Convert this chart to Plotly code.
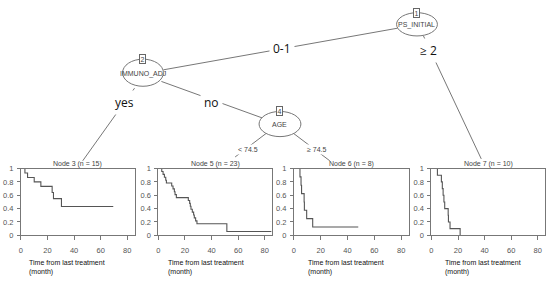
import plotly.graph_objects as go

# Kaplan-Meier estimates read off the four terminal nodes
node3_time = [0, 3, 5, 10, 15, 23.5, 24.5, 30.5, 69.5]
node3_surv = [1, 0.933, 0.867, 0.8, 0.733, 0.641, 0.55, 0.433, 0.433]

node5_time = [0, 2.5, 3.5, 4.5, 5.5, 6, 10, 11, 12, 12.5, 13.5,
              22.5, 23.5, 24, 24.5, 25.5, 26.5, 27, 28, 29, 51.5, 85]
node5_surv = [1, 0.957, 0.913, 0.870, 0.826, 0.783, 0.739, 0.696, 0.652, 0.609, 0.565,
              0.522, 0.478, 0.435, 0.391, 0.348, 0.304, 0.261, 0.217, 0.174, 0.058, 0.058]

node6_time = [0, 4.5, 5.3, 5.7, 7.6, 7.8, 9.5, 14, 48]
node6_surv = [1, 0.875, 0.75, 0.625, 0.5, 0.375, 0.25, 0.125, 0.125]

node7_time = [0, 4.5, 7.5, 8.2, 8.8, 9.4, 10, 12.6, 12.8, 14, 21.6]
node7_surv = [1, 0.9, 0.8, 0.7, 0.6, 0.5, 0.4, 0.3, 0.2, 0.1, 0.0]

node_titles = ["Node 3 (n = 15)", "Node 5 (n = 23)", "Node 6 (n = 8)", "Node 7 (n = 10)"]
x_ticks = [0, 20, 40, 60, 80]
y_ticks = [0, 0.2, 0.4, 0.6, 0.8, 1]
y_ticktext = ["0", "0.2", "0.4", "0.6", "0.8", "1"]

W, H = 550, 281


def px(x):
    return x / W


def py(y):
    return 1 - y / H


curves = [(node3_time, node3_surv), (node5_time, node5_surv),
          (node6_time, node6_surv), (node7_time, node7_surv)]

# pixel extents of each km panel
panel_left = [19, 157, 293, 431]
panel_right = [133, 271, 408, 545]
panel_top, panel_bottom = 170, 239
label_left = [25, 165, 305, 443]

fig = go.Figure()
layout = dict(
    width=W, height=H,
    margin=dict(l=0, r=0, t=0, b=0),
    plot_bgcolor="white", paper_bgcolor="white",
    showlegend=False,
    font=dict(family="Liberation Sans, Arial, sans-serif", color="#333"),
)

annotations = []
shapes = []


def note(text, x, y, xanchor="center", yanchor="middle", **kw):
    annotations.append(dict(xref="paper", yref="paper", x=px(x), y=py(y),
                            xanchor=xanchor, yanchor=yanchor, showarrow=False,
                            text=text, **kw))


for i, (t, s) in enumerate(curves):
    n = "" if i == 0 else str(i + 1)
    fig.add_trace(go.Scatter(
        x=t, y=s, mode="lines", line=dict(color="#555", width=1.1, shape="hv"),
        xaxis="x" + n, yaxis="y" + n, hoverinfo="skip"))
    layout["xaxis" + n] = dict(
        domain=[px(panel_left[i]), px(panel_right[i])], anchor="y" + n,
        range=[0, 85.5], tickvals=x_ticks, ticks="outside", ticklen=4,
        tickcolor="#777", showline=True, linecolor="#777", linewidth=1, mirror=True,
        showgrid=False, zeroline=False, tickfont=dict(size=7.5, color="#555"),
        ticklabelstandoff=4)
    layout["yaxis" + n] = dict(
        domain=[py(panel_bottom), py(panel_top)], anchor="x" + n,
        range=[0, 1], tickvals=y_ticks, ticktext=y_ticktext, ticks="outside", ticklen=3,
        tickcolor="#777", showline=True, linecolor="#777", linewidth=1, mirror=True,
        showgrid=False, zeroline=False, tickfont=dict(size=7.5, color="#555"),
        ticklabelstandoff=2)
    note(node_titles[i], (panel_left[i] + panel_right[i]) / 2, 165.5,
         font=dict(size=7, color="#444"))
    note("Time from last treatment<br>(month)", label_left[i], 261,
         xanchor="left", yanchor="top", align="left",
         font=dict(size=7, color="#111"))

# tree edges (pixel coordinates)
edges = [((397, 25), (162, 68)), ((423, 33), (481, 160)),
         ((133, 87), (81, 162)), ((160, 80), (262, 118)),
         ((266, 133), (234, 158)), ((293, 134), (329, 162))]
for (x0, y0), (x1, y1) in edges:
    shapes.append(dict(type="line", xref="paper", yref="paper",
                       x0=px(x0), y0=py(y0), x1=px(x1), y1=py(y1),
                       line=dict(color="#777", width=1)))

# inner nodes: centre, half width, half height, label, id
nodes = [(416.5, 21, 20.5, 12, "PS_INITIAL", "1"),
         (141.5, 71, 20.5, 14, "IMMUNO_ADJ", "2"),
         (279, 124, 21, 13, "AGE", "4")]
for cx, cy, hw, hh, lab, nid in nodes:
    shapes.append(dict(type="circle", xref="paper", yref="paper",
                       x0=px(cx - hw), x1=px(cx + hw), y0=py(cy + hh), y1=py(cy - hh),
                       fillcolor="white", line=dict(color="#777", width=1)))
    note(lab, cx, cy + 1,
         font=dict(size=7, color="#444",
                   family="Liberation Sans Narrow, Liberation Sans, Arial"))
    note(nid, cx, cy - hh, bgcolor="white", bordercolor="#666",
         borderwidth=1, borderpad=0.5, font=dict(size=7, color="#444"))

# edge labels
big = [("0-1", 281, 46), ("\u2265 2", 428, 48), ("yes", 123, 102), ("no", 210, 102)]
for txt, x, y in big:
    note(txt, x, y, bgcolor="white", borderpad=3,
         font=dict(size=12, color="#111", family="Open Sans, Liberation Sans"))
small = [("< 74.5", 247, 150), ("\u2265 74.5", 316, 150)]
for txt, x, y in small:
    note(txt, x, y, bgcolor="white", borderpad=1, font=dict(size=7, color="#444"))

layout["annotations"] = annotations
layout["shapes"] = shapes
fig.update_layout(**layout)

# drop the default page margin so the figure sits at the window origin
fig.write_html("out.html", config={"displayModeBar": False},
               post_script="document.body.style.margin='0px';")
